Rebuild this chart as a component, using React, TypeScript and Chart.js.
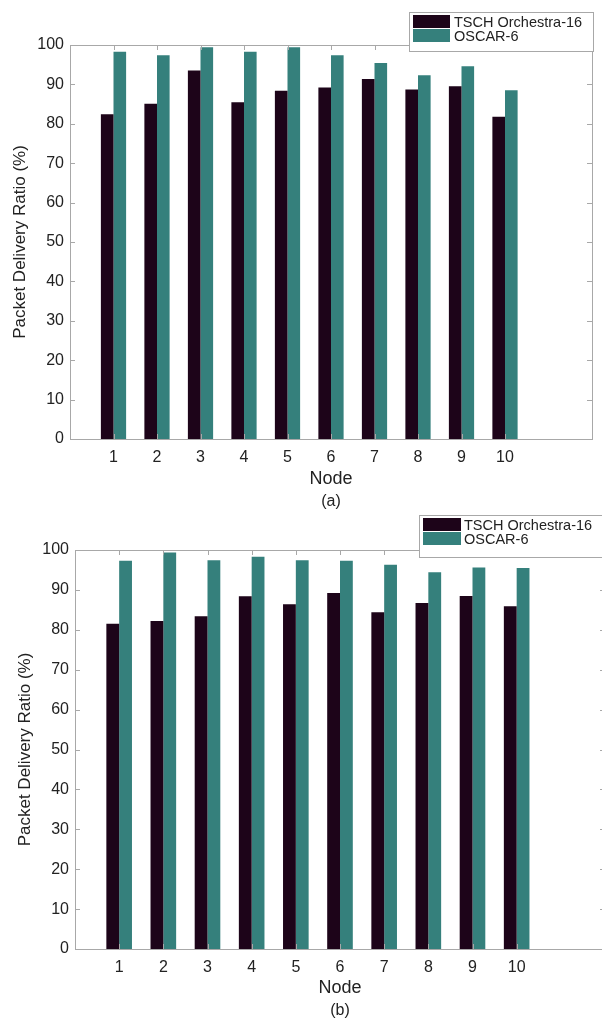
import React, { useEffect, useRef } from "react";
import { Chart, registerables } from "chart.js";

Chart.register(...registerables);

const nodes = [1, 2, 3, 4, 5, 6, 7, 8, 9, 10];
const yTicks = [0, 10, 20, 30, 40, 50, 60, 70, 80, 90, 100];
const seriesNames = ["TSCH Orchestra-16", "OSCAR-6"];
const seriesColors = ["#1d0419", "#35807c"];

const tschA = [82.4, 85.1, 93.5, 85.5, 88.4, 89.2, 91.4, 88.7, 89.5, 81.8];
const oscarA = [98.3, 97.4, 99.4, 98.3, 99.4, 97.4, 95.4, 92.3, 94.6, 88.5];
const tschB = [81.5, 82.2, 83.4, 88.4, 86.4, 89.2, 84.4, 86.7, 88.5, 85.9];
const oscarB = [97.3, 99.4, 97.4, 98.3, 97.4, 97.3, 96.3, 94.4, 95.6, 95.5];

const FONT = "'Liberation Sans', Arial, Helvetica, sans-serif";
const AXIS_COLOR = "#a8a8a8";
const TEXT_COLOR = "#222222";

type PanelCfg = {
  W: number;
  H: number;
  left: number;
  top: number;
  bottom: number;
  right: number;
  tsch: number[];
  oscar: number[];
  nodeY: number;
  capY: number;
  caption: string;
  yTitleX: number;
  legend: { x: number; y: number; w: number; h: number; sw: number; textX: number };
  tickPad: number;
};

function makeChart(canvas: HTMLCanvasElement, c: PanelCfg) {
  const extras = {
    id: "matlabExtras",
    afterDatasetsDraw(chart: any) {
      const ctx = chart.ctx as CanvasRenderingContext2D;
      const a = chart.chartArea;
      const xs = chart.scales.x;
      const ys = chart.scales.y;
      ctx.save();
      ctx.strokeStyle = AXIS_COLOR;
      ctx.lineWidth = 1;
      ctx.strokeRect(Math.round(a.left) + 0.5, Math.round(a.top) + 0.5, Math.round(a.right - a.left), Math.round(a.bottom - a.top));
      const tl = 5;
      ctx.beginPath();
      for (const v of yTicks) {
        const y = Math.round(ys.getPixelForValue(v)) + 0.5;
        ctx.moveTo(a.left, y);
        ctx.lineTo(a.left + tl, y);
        ctx.moveTo(a.right, y);
        ctx.lineTo(a.right - tl, y);
      }
      for (const v of nodes) {
        const x = Math.round(xs.getPixelForValue(v)) + 0.5;
        ctx.moveTo(x, a.top);
        ctx.lineTo(x, a.top + tl);
        ctx.moveTo(x, a.bottom);
        ctx.lineTo(x, a.bottom - tl);
      }
      ctx.stroke();

      // axis titles and caption
      const cx = (a.left + a.right) / 2;
      ctx.fillStyle = TEXT_COLOR;
      ctx.textAlign = "center";
      ctx.textBaseline = "middle";
      ctx.font = `18px ${FONT}`;
      ctx.fillText("Node", cx, c.nodeY);
      ctx.font = `16px ${FONT}`;
      ctx.fillText(c.caption, cx, c.capY);
      ctx.save();
      ctx.translate(c.yTitleX, (a.top + a.bottom) / 2);
      ctx.rotate(-Math.PI / 2);
      ctx.font = `17px ${FONT}`;
      ctx.fillText("Packet Delivery Ratio (%)", 0, 0);
      ctx.restore();

      // legend
      const L = c.legend;
      ctx.fillStyle = "#ffffff";
      ctx.fillRect(L.x, L.y, L.w, L.h);
      ctx.strokeStyle = AXIS_COLOR;
      ctx.strokeRect(L.x + 0.5, L.y + 0.5, L.w, L.h);
      ctx.textAlign = "left";
      ctx.font = `14.5px ${FONT}`;
      for (let i = 0; i < seriesNames.length; i++) {
        const ry = L.y + 3 + i * 14;
        ctx.fillStyle = seriesColors[i];
        ctx.fillRect(L.x + 4, ry, L.sw, 13);
        ctx.fillStyle = TEXT_COLOR;
        ctx.fillText(seriesNames[i], L.textX, ry + 8);
      }
      ctx.restore();
    },
  };

  return new Chart(canvas, {
    type: "bar",
    data: {
      datasets: [
        {
          label: seriesNames[0],
          data: nodes.map((n, i) => ({ x: n, y: c.tsch[i] })),
          backgroundColor: seriesColors[0],
          borderWidth: 0,
          categoryPercentage: 0.58,
          barPercentage: 1,
        },
        {
          label: seriesNames[1],
          data: nodes.map((n, i) => ({ x: n, y: c.oscar[i] })),
          backgroundColor: seriesColors[1],
          borderWidth: 0,
          categoryPercentage: 0.58,
          barPercentage: 1,
        },
      ] as any,
    },
    options: {
      responsive: false,
      animation: false,
      layout: { padding: { left: 0, top: c.top, right: c.W - c.right, bottom: 0 } },
      plugins: { legend: { display: false }, tooltip: { enabled: false }, title: { display: false } },
      scales: {
        x: {
          type: "linear",
          min: 0,
          max: 12,
          offset: false,
          grid: { display: false, drawTicks: false },
          border: { display: false },
          afterBuildTicks: (s: any) => {
            s.ticks = nodes.map((v) => ({ value: v }));
          },
          afterFit: (s: any) => {
            s.height = c.H - c.bottom;
          },
          ticks: {
            autoSkip: false,
            maxRotation: 0,
            padding: c.tickPad,
            color: TEXT_COLOR,
            font: { family: FONT, size: 16 },
            callback: (v: any) => String(v),
          },
        },
        y: {
          min: 0,
          max: 100,
          grid: { display: false, drawTicks: false },
          border: { display: false },
          afterBuildTicks: (s: any) => {
            s.ticks = yTicks.map((v) => ({ value: v }));
          },
          afterFit: (s: any) => {
            s.width = c.left;
          },
          ticks: {
            padding: 6,
            color: TEXT_COLOR,
            font: { family: FONT, size: 16 },
          },
        },
      } as any,
    },
    plugins: [extras],
  });
}

function Panel({ cfg, top }: { cfg: PanelCfg; top: number }) {
  const ref = useRef<HTMLCanvasElement | null>(null);
  useEffect(() => {
    if (!ref.current) return;
    const ch = makeChart(ref.current, cfg);
    return () => ch.destroy();
  }, []);
  return (
    <canvas
      ref={ref}
      width={cfg.W}
      height={cfg.H}
      style={{ position: "absolute", left: 0, top, width: cfg.W, height: cfg.H, display: "block" }}
    />
  );
}

const panelA: PanelCfg = {
  W: 602,
  H: 512,
  left: 70,
  top: 45,
  bottom: 439,
  right: 592,
  tsch: tschA,
  oscar: oscarA,
  nodeY: 479,
  capY: 502,
  caption: "(a)",
  yTitleX: 20,
  legend: { x: 409, y: 12, w: 184, h: 39, sw: 37, textX: 454 },
  tickPad: 9,
};

const panelB: PanelCfg = {
  W: 620,
  H: 506,
  left: 75,
  top: 38,
  bottom: 437,
  right: 605,
  tsch: tschB,
  oscar: oscarB,
  nodeY: 476,
  capY: 499,
  caption: "(b)",
  yTitleX: 25,
  legend: { x: 419, y: 3, w: 200, h: 42, sw: 38, textX: 464 },
  tickPad: 9,
};

export default function App() {
  return (
    <div
      style={{
        position: "fixed",
        left: 0,
        top: 0,
        width: 602,
        height: 1018,
        overflow: "hidden",
        background: "#ffffff",
      }}
    >
      <Panel cfg={panelA} top={0} />
      <Panel cfg={panelB} top={512} />
    </div>
  );
}
